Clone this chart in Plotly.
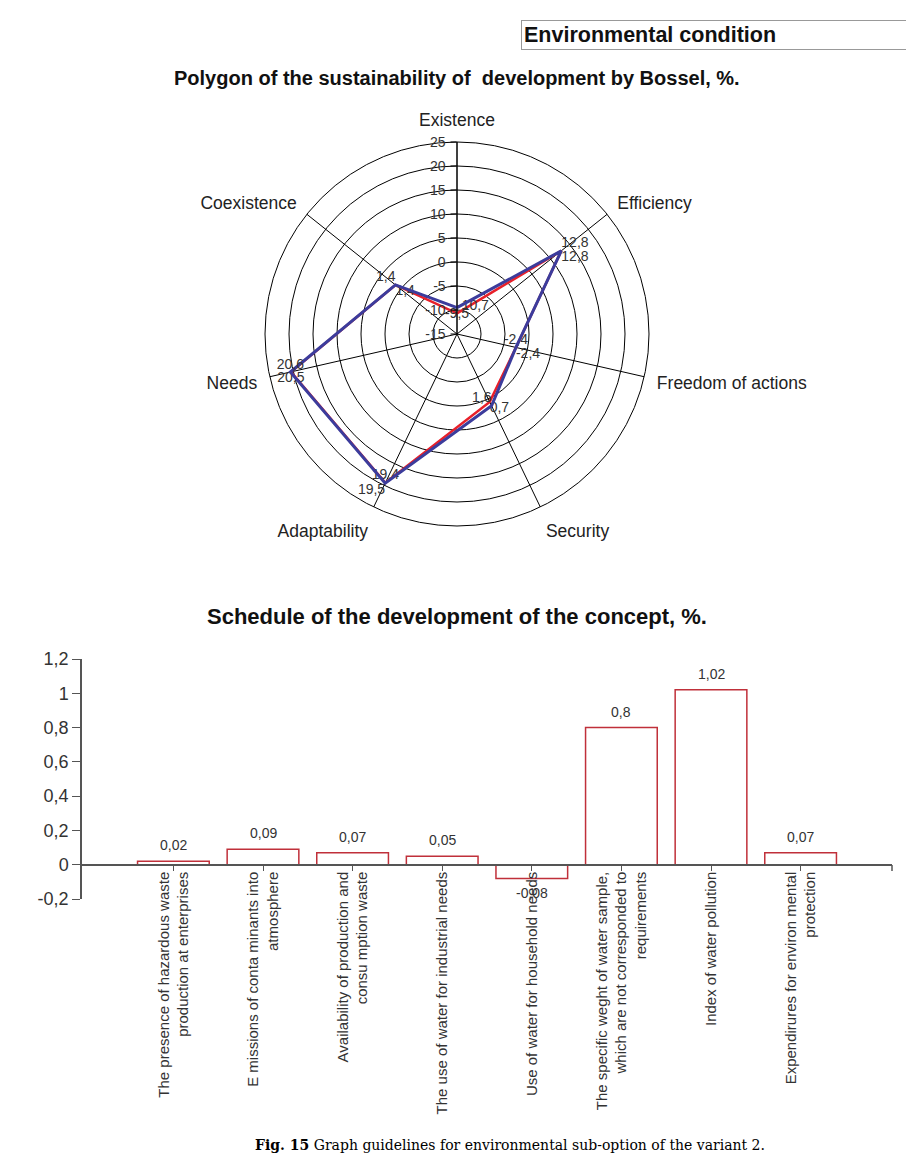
import plotly.graph_objects as go

# ---------------- data ----------------
axes_names = ["Existence", "Efficiency", "Freedom of actions", "Security",
              "Adaptability", "Needs", "Coexistence"]
series_red = [-10.7, 12.8, -2.4, 0.7, 19.4, 20.5, 1.4]
series_blue = [-9.5, 12.8, -2.4, 1.6, 19.5, 20.6, 1.4]
red_text_pos = ["top right", "top right", "top center", "bottom right",
                "top center", "bottom center", "bottom right"]
blue_text_pos = ["bottom center", "bottom right", "bottom right", "top left",
                 "bottom left", "top center", "top left"]
radial_ticks = [-15, -10, -5, 0, 5, 10, 15, 20, 25]
radial_ticktext = ["-15", "-10", "-5", "0", "5", "10", "15", "20", "25"]

bar_categories = [
    "The presence of hazardous waste<br>production at enterprises",
    "E missions of conta minants into<br>atmosphere",
    "Availability of production and<br>consu mption waste",
    "The use of water for industrial needs",
    "Use of water for household needs",
    "The specific weght of water sample,<br>which are not corresponded to<br>requirements",
    "Index of water pollution",
    "Expendirures for environ mental<br>protection",
]
bar_values = [0.02, 0.09, 0.07, 0.05, -0.08, 0.8, 1.02, 0.07]
y_ticks = [-0.2, 0, 0.2, 0.4, 0.6, 0.8, 1, 1.2]
y_ticktext = ["-0,2", "0", "0,2", "0,4", "0,6", "0,8", "1", "1,2"]

FONT = "Liberation Sans, Arial, sans-serif"
W, H = 906, 1168


def fmt(v):
    return str(v).replace(".", ",")


fig = go.Figure()

# ---------------- radar ----------------
theta = axes_names + [axes_names[0]]
fig.add_trace(go.Scatterpolar(
    r=series_red + [series_red[0]], theta=theta,
    mode="lines+text",
    text=[fmt(v) for v in series_red] + [""],
    textposition=red_text_pos + ["top center"],
    textfont=dict(family=FONT, size=14, color="#333"),
    line=dict(color="#e8202a", width=2.5),
    showlegend=False, cliponaxis=False,
))
fig.add_trace(go.Scatterpolar(
    r=series_blue + [series_blue[0]], theta=theta,
    mode="lines+text",
    text=[fmt(v) for v in series_blue] + [""],
    textposition=blue_text_pos + ["top center"],
    textfont=dict(family=FONT, size=14, color="#333"),
    line=dict(color="#3c3c9c", width=3),
    showlegend=False, cliponaxis=False,
))

cx, cy, R = 457, 334, 192
fig.update_layout(polar=dict(
    domain=dict(x=[(cx - R) / W, (cx + R) / W], y=[1 - (cy + R) / H, 1 - (cy - R) / H]),
    bgcolor="white",
    radialaxis=dict(
        range=[-15, 25], tickvals=radial_ticks, ticktext=radial_ticktext,
        angle=90, tickangle=90, side="counterclockwise",
        showline=True, linecolor="black", linewidth=1,
        ticks="outside", ticklen=6, tickcolor="black",
        gridcolor="black", gridwidth=1,
        tickfont=dict(family=FONT, size=14, color="#333"),
    ),
    angularaxis=dict(
        rotation=90, direction="clockwise",
        showline=True, linecolor="black", linewidth=1,
        gridcolor="black", gridwidth=1,
        ticks="outside", ticklen=9, tickcolor="rgba(0,0,0,0)",
        tickfont=dict(family=FONT, size=17.5, color="#222"),
    ),
))

# ---------------- bars ----------------
fig.add_trace(go.Bar(
    x=list(range(len(bar_values))), y=bar_values,
    width=0.8,
    marker=dict(color="white", line=dict(color="#c0303a", width=1.5)),
    cliponaxis=False, showlegend=False,
    xaxis="x", yaxis="y",
))
for i, v in enumerate(bar_values):
    fig.add_annotation(
        x=i, y=v, xref="x", yref="y", showarrow=False,
        text=fmt(v), yshift=16 if v >= 0 else -15,
        xanchor="center", yanchor="middle",
        font=dict(family=FONT, size=14, color="#333"),
    )

zero_py = 865
fig.update_layout(
    xaxis=dict(
        domain=[82 / W, 892 / W], range=[-1.02, 8.02],
        anchor="free", position=1 - zero_py / H,
        tickvals=list(range(len(bar_categories))), ticktext=bar_categories,
        tickangle=-90, showline=True, linecolor="#555", linewidth=1.5,
        ticks="outside", ticklen=5, tickcolor="#555", ticklabelstandoff=-5,
        showgrid=False, zeroline=False, automargin=False,
        tickfont=dict(family=FONT, size=15, color="#333"),
    ),
    yaxis=dict(
        domain=[1 - 899 / H, 1 - 659 / H], range=[-0.2, 1.2],
        tickvals=y_ticks, ticktext=y_ticktext,
        showline=True, linecolor="#555", linewidth=1.5,
        ticks="outside", ticklen=8, tickcolor="#555",
        showgrid=False, zeroline=False, automargin=False,
        tickfont=dict(family=FONT, size=18, color="#333"),
    ),
)

# right end tick of the category axis
fig.add_shape(type="line", xref="paper", yref="paper",
              x0=892 / W, x1=892 / W, y0=1 - zero_py / H, y1=1 - (zero_py + 6) / H,
              line=dict(color="#555", width=1.5))

# ---------------- text ----------------
fig.add_annotation(
    x=521 / W, y=1 - 35 / H, xref="paper", yref="paper",
    xanchor="left", yanchor="middle", showarrow=False,
    text="<b>Environmental condition</b>", align="left", width=400,
    font=dict(family=FONT, size=21.5, color="#111"),
    bordercolor="#999", borderwidth=1, borderpad=2, bgcolor="white",
)
fig.add_annotation(
    x=457 / W, y=1 - 78 / H, xref="paper", yref="paper",
    xanchor="center", yanchor="middle", showarrow=False,
    text="<b>Polygon of the sustainability of  development by Bossel, %.</b>",
    font=dict(family=FONT, size=20, color="#111"),
)
fig.add_annotation(
    x=457 / W, y=1 - 616 / H, xref="paper", yref="paper",
    xanchor="center", yanchor="middle", showarrow=False,
    text="<b>Schedule of the development of the concept, %.</b>",
    font=dict(family=FONT, size=22, color="#111"),
)
fig.add_annotation(
    x=510 / W, y=1 - 1145 / H, xref="paper", yref="paper",
    xanchor="center", yanchor="middle", showarrow=False,
    text="<b>Fig. 15</b> Graph guidelines for environmental sub-option of the variant 2.",
    font=dict(family="DejaVu Serif, Liberation Serif, serif", size=14, color="black"),
)

fig.update_layout(
    width=W, height=H, margin=dict(l=0, r=0, t=0, b=0, pad=0, autoexpand=False),
    paper_bgcolor="white", plot_bgcolor="white",
    separators=", ", showlegend=False,
)

fig.write_html("out.html", config={"displayModeBar": False},
               post_script="document.body.style.margin='0px';")
